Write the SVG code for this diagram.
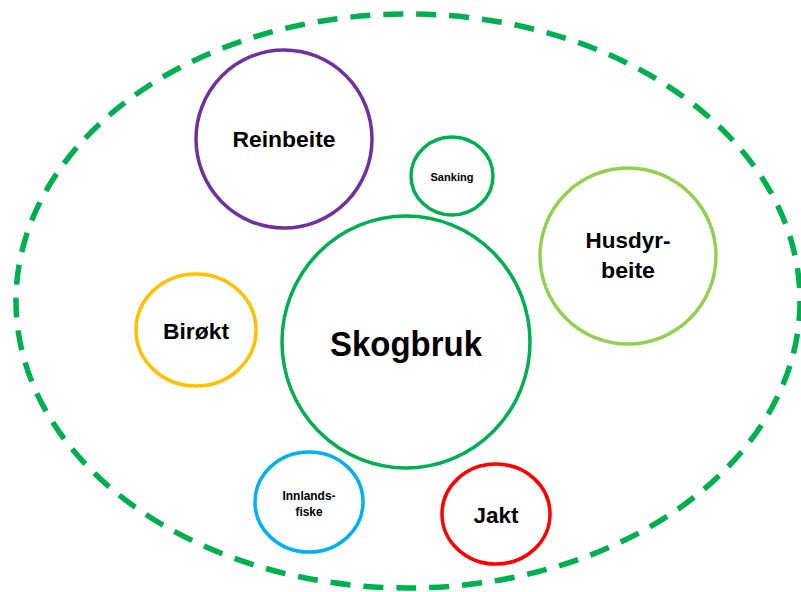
<svg xmlns="http://www.w3.org/2000/svg" width="801" height="592" viewBox="0 0 801 592">
<style>
.c{fill:none;stroke-width:3.5}
.t{font-family:"Liberation Sans",Arial,sans-serif;font-weight:bold;fill:#000;text-anchor:middle}
</style>
<rect width="801" height="592" fill="#fff"/>
<g id="boundary">
<ellipse cx="408" cy="301" rx="392" ry="287" fill="none" stroke="#00B050" stroke-width="5.5" stroke-dasharray="20 13"/>
</g>
<g id="connectors"/>
<g id="reinbeite">
<ellipse class="c" cx="284" cy="139" rx="88" ry="89" stroke="#7030A0"/>
<text class="t" x="284" y="147" font-size="22" textLength="103" lengthAdjust="spacingAndGlyphs">Reinbeite</text>
</g>
<g id="sanking">
<ellipse class="c" cx="452" cy="176" rx="41" ry="39" stroke="#00B050"/>
<text class="t" x="452" y="181" font-size="11" textLength="43" lengthAdjust="spacingAndGlyphs">Sanking</text>
</g>
<g id="husdyrbeite">
<ellipse class="c" cx="628" cy="256" rx="88" ry="88" stroke="#92D050"/>
<text class="t" x="628" y="248" font-size="22" textLength="85" lengthAdjust="spacingAndGlyphs">Husdyr-</text>
<text class="t" x="628" y="278" font-size="22" textLength="54" lengthAdjust="spacingAndGlyphs">beite</text>
</g>
<g id="birokt">
<ellipse class="c" cx="196" cy="330" rx="60" ry="56" stroke="#FFC000"/>
<text class="t" x="196" y="339" font-size="22" textLength="66" lengthAdjust="spacingAndGlyphs">Birøkt</text>
</g>
<g id="skogbruk">
<ellipse class="c" cx="406" cy="342" rx="124" ry="126" stroke="#00B050"/>
<text class="t" x="406" y="356" font-size="35" textLength="152" lengthAdjust="spacingAndGlyphs">Skogbruk</text>
</g>
<g id="innlandsfiske">
<ellipse class="c" cx="309" cy="502" rx="54" ry="50" stroke="#00B0F0"/>
<text class="t" x="309" y="500" font-size="12" textLength="53" lengthAdjust="spacingAndGlyphs">Innlands-</text>
<text class="t" x="309" y="516" font-size="12" textLength="27" lengthAdjust="spacingAndGlyphs">fiske</text>
</g>
<g id="jakt">
<ellipse class="c" cx="496" cy="514" rx="54" ry="50" stroke="#FF0000"/>
<text class="t" x="496" y="523" font-size="22" textLength="45" lengthAdjust="spacingAndGlyphs">Jakt</text>
</g>
</svg>
